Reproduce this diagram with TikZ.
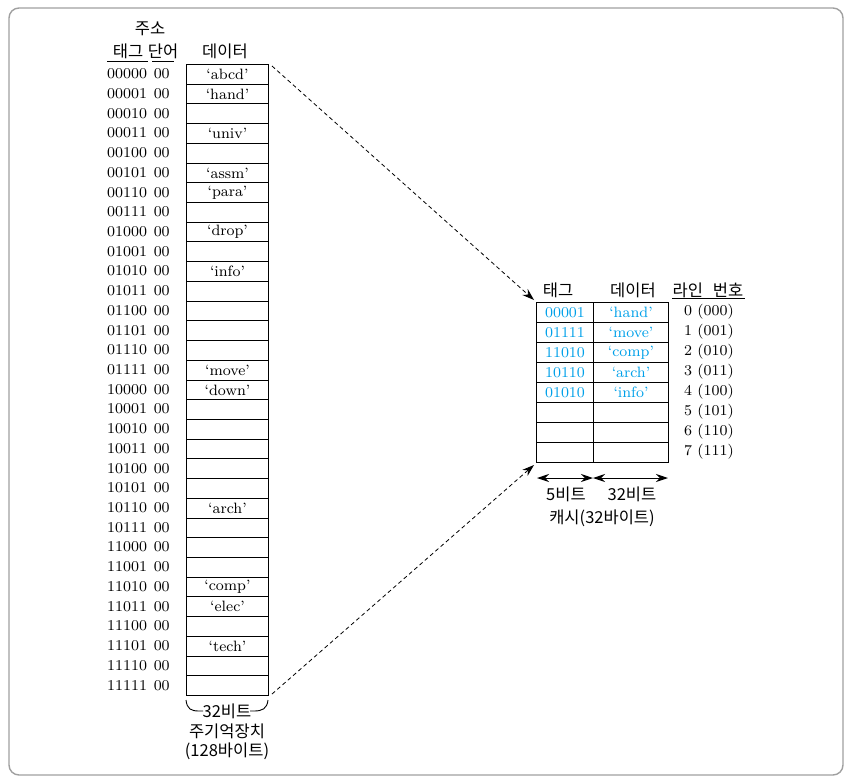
\documentclass[tikz,border=0pt]{standalone}
\usepackage{fontspec}
\newfontfamily\kr{Noto Sans CJK KR}
\newfontfamily\lmeight{lmroman8-regular.otf}[Ligatures=TeX]
\usetikzlibrary{arrows.meta,calc}
\definecolor{cy}{RGB}{0,160,233}
\definecolor{framegray}{RGB}{160,160,160}
\tikzset{
  lm/.style={font=\lmeight\fontsize{15}{18}\selectfont},
  krt/.style={font=\kr\fontsize{16.5}{19}\selectfont},
  memcell/.style={draw, line width=1pt, minimum width=82pt, minimum height=19.72pt, anchor=north west, inner sep=0pt, lm},
  cachecell/.style={draw, line width=1pt, minimum height=20pt, anchor=north west, inner sep=0pt, lm, text=cy},
  addr/.style={anchor=west, inner sep=0pt, lm},
  lineno/.style={inner sep=0pt, lm},
  dasharrow/.style={dash pattern=on 4pt off 3pt, line width=0.8pt, -{Stealth[length=12pt,width=8pt]}},
  dimarrow/.style={line width=1pt, {Stealth[length=12pt,width=8pt]}-{Stealth[length=12pt,width=8pt]}},
}
\begin{document}
\begin{tikzpicture}[x=1pt,y=-1pt]
\useasboundingbox (0,0) rectangle (855,782);
\draw[framegray, line width=1.4pt, rounded corners=10pt] (9,8) rectangle (843,775);

% headers of main memory
\node[krt] (juso) at (150,29) {주소};
\node[krt] (tag1) at (128,51) {태그};
\node[krt] (word1) at (163,51) {단어};
\node[krt] (data1) at (225,51) {데이터};
\draw[line width=0.9pt] (107,61) -- (148,61);
\draw[line width=0.9pt] (152,61) -- (174,61);

% main memory cells
\foreach \i/\myad/\mydt in {0/00000/‘abcd’, 1/00001/‘hand’, 2/00010/, 3/00011/‘univ’, 4/00100/, 5/00101/‘assm’, 6/00110/‘para’, 7/00111/, 8/01000/‘drop’, 9/01001/, 10/01010/‘info’, 11/01011/, 12/01100/, 13/01101/, 14/01110/, 15/01111/‘move’, 16/10000/‘down’, 17/10001/, 18/10010/, 19/10011/, 20/10100/, 21/10101/, 22/10110/‘arch’, 23/10111/, 24/11000/, 25/11001/, 26/11010/‘comp’, 27/11011/‘elec’, 28/11100/, 29/11101/‘tech’, 30/11110/, 31/11111/}{
  \pgfmathsetmacro{\yy}{64+\i*19.72}
  \pgfmathsetmacro{\ym}{64+(\i+0.5)*19.72}
  \node[memcell] (m\i) at (186,\yy) {\mydt};
  \node[addr] (a\i) at (107,\ym) {\myad\hspace{0.45em}00};
}

% brace
\draw[line width=0.9pt] (186,700) .. controls (187,709) and (191,711) .. (199,711) -- (203,711);
\draw[line width=0.9pt] (250,711) -- (254,711) .. controls (262,711) and (267,709) .. (268,700);
\node[krt] (b32) at (227,711) {32비트};
\node[krt] (mainmem) at (227,731) {주기억장치};
\node[krt] (mainsize) at (227,751) {(128바이트)};

% cache headers
\node[krt] (tag2) at (558,290) {태그};
\node[krt] (data2) at (633,290) {데이터};
\node[krt] (lineh) at (708,290) {라인\hspace{0.6em}번호};
\draw[line width=0.9pt] (672,298) -- (745,298);

% cache cells
\foreach \i/\mytg/\mydt/\myln in {0/00001/‘hand’/0 (000), 1/01111/‘move’/1 (001), 2/11010/‘comp’/2 (010), 3/10110/‘arch’/3 (011), 4/01010/‘info’/4 (100), 5///5 (101), 6///6 (110), 7///7 (111)}{
  \pgfmathsetmacro{\yy}{302+\i*20}
  \pgfmathsetmacro{\ym}{302+(\i+0.5)*20}
  \node[cachecell, minimum width=57pt] (ct\i) at (536,\yy) {\mytg};
  \node[cachecell, minimum width=75pt] (cd\i) at (593,\yy) {\mydt};
  \node[lineno] (ln\i) at (709,\ym) {\myln};
}

% dimension arrows
\coordinate (d0) at (537,478);
\coordinate (d1) at (593,478);
\coordinate (d2) at (668,478);
\draw[dimarrow] (d0) -- (d1);
\draw[dimarrow] (d1) -- (d2);
\node[krt] (b5) at (566,494) {5비트};
\node[krt] (b32c) at (632,494) {32비트};
\node[krt] (cachesize) at (602,518) {캐시(32바이트)};

% dashed connectors
\draw[dasharrow] ([shift={(3,2)}]m0.north east) -- ([shift={(-2,-2)}]ct0.north west);
\draw[dasharrow] ([shift={(3,-2)}]m31.south east) -- ([shift={(-2,2)}]ct7.south west);
\end{tikzpicture}
\end{document}
